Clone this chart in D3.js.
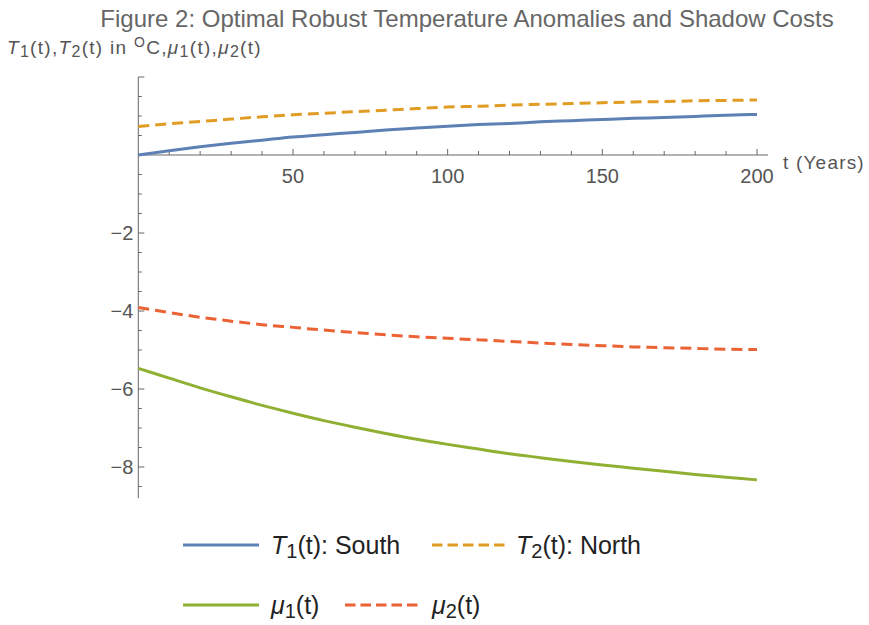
<!DOCTYPE html>
<html>
<head>
<meta charset="utf-8">
<script src="https://cdn.jsdelivr.net/npm/d3@7"></script>
<style>
  html, body { margin: 0; padding: 0; background: #fff; }
  svg { display: block; font-family: "Liberation Sans", Arial, Helvetica, sans-serif; }
</style>
</head>
<body>
<svg id="chart" width="869" height="625"></svg>
<script>
// ---- data ----
const years = [0, 10, 20, 30, 40, 50, 60, 70, 80, 90, 100, 110, 120, 130, 140, 150, 160, 170, 180, 190, 200];
const T1 = [0, 0.11, 0.21, 0.30, 0.38, 0.46, 0.52, 0.58, 0.64, 0.69, 0.74, 0.78, 0.81, 0.85, 0.88, 0.91, 0.94, 0.96, 0.99, 1.02, 1.04];
const T2 = [0.73, 0.80, 0.86, 0.92, 0.98, 1.03, 1.07, 1.11, 1.15, 1.19, 1.23, 1.25, 1.28, 1.30, 1.32, 1.34, 1.36, 1.37, 1.39, 1.40, 1.41];
const mu1 = [-5.47, -5.72, -5.97, -6.20, -6.42, -6.62, -6.81, -6.98, -7.14, -7.29, -7.42, -7.54, -7.66, -7.76, -7.86, -7.95, -8.03, -8.11, -8.19, -8.26, -8.33];
const mu2 = [-3.91, -4.04, -4.16, -4.26, -4.35, -4.42, -4.49, -4.55, -4.61, -4.66, -4.70, -4.74, -4.78, -4.82, -4.86, -4.89, -4.92, -4.94, -4.96, -4.98, -4.99];
const xMajorTicks = [50, 100, 150, 200];
const yMajorTicks = [-8, -6, -4, -2];
const seriesNames = ["T1", "T2", "mu1", "mu2"];

const colors = { T1: "#5E81B5", T2: "#E19C24", mu1: "#8FB032", mu2: "#EB6235" };
const dashes = { T1: null, T2: "11,6", mu1: null, mu2: "11,6" };
const values = { T1, T2, mu1, mu2 };

const svg = d3.select("#chart");

const x = d3.scaleLinear().domain([0, 200]).range([138.3, 757]);
const y = d3.scaleLinear().domain([0, -8]).range([155, 467]);

const axisColor = "#666";
const labelColor = "#555";

const g = svg.append("g");
// x axis line
g.append("line").attr("x1", x(0)).attr("x2", 768).attr("y1", y(0)).attr("y2", y(0))
  .attr("stroke", axisColor).attr("stroke-width", 1);
// y axis line
g.append("line").attr("x1", x(0)).attr("x2", x(0)).attr("y1", y(2)).attr("y2", y(-8.8))
  .attr("stroke", axisColor).attr("stroke-width", 1);

// x ticks (inward = upward)
d3.range(10, 201, 10).forEach(t => {
  const major = xMajorTicks.includes(t);
  g.append("line").attr("x1", x(t)).attr("x2", x(t))
    .attr("y1", y(0)).attr("y2", y(0) - (major ? 6 : 4))
    .attr("stroke", axisColor).attr("stroke-width", 1);
});
xMajorTicks.forEach(t => {
  g.append("text").attr("x", x(t)).attr("y", y(0) + 28)
    .attr("text-anchor", "middle").attr("font-size", 20).attr("fill", labelColor)
    .text(t);
});

// y ticks (inward = rightward)
d3.range(-8.5, 2.01, 0.5).forEach(v => {
  if (Math.abs(v) < 1e-9) return;
  const major = Math.abs(v - Math.round(v / 2) * 2) < 1e-9;
  g.append("line").attr("x1", x(0)).attr("x2", x(0) + (major ? 6 : 3.5))
    .attr("y1", y(v)).attr("y2", y(v))
    .attr("stroke", axisColor).attr("stroke-width", 1);
});
yMajorTicks.forEach(v => {
  g.append("text").attr("x", x(0) - 5).attr("y", y(v) + 7)
    .attr("text-anchor", "end").attr("font-size", 20).attr("fill", labelColor)
    .text("\u2212" + Math.abs(v));
});

// x axis label
g.append("text").attr("x", 783).attr("y", 169).attr("font-size", 19)
  .attr("letter-spacing", 1.2).attr("fill", labelColor)
  .text("t (Years)");

// title
svg.append("text").attr("x", 467).attr("y", 27).attr("text-anchor", "middle")
  .attr("font-size", 24).attr("fill", "#666")
  .text("Figure 2: Optimal Robust Temperature Anomalies and Shadow Costs");

// y label with subscripts
const yl = svg.append("text").attr("x", 7).attr("y", 54).attr("font-size", 19)
  .attr("letter-spacing", 1.3).attr("fill", "#555");
function addPart(sel, txt, opts = {}) {
  const ts = sel.append("tspan").text(txt);
  if (opts.italic) ts.attr("font-style", "italic");
  if (opts.size) ts.attr("font-size", opts.size);
  if (opts.dy !== undefined) ts.attr("dy", opts.dy);
  return ts;
}
addPart(yl, "T", { italic: true });
addPart(yl, "1", { size: 16, dy: 3 });
addPart(yl, "(t),", { dy: -3 });
addPart(yl, "T", { italic: true });
addPart(yl, "2", { size: 16, dy: 3 });
addPart(yl, "(t) in ", { dy: -3 });
addPart(yl, "O", { size: 14, dy: -7 });
addPart(yl, "C,", { dy: 7 });
addPart(yl, "\u03BC", { italic: true });
addPart(yl, "1", { size: 16, dy: 3 });
addPart(yl, "(t),", { dy: -3 });
addPart(yl, "\u03BC", { italic: true });
addPart(yl, "2", { size: 16, dy: 3 });
addPart(yl, "(t)", { dy: -3 });

// series lines
const line = d3.line().x((d, i) => x(years[i])).y(d => y(d)).curve(d3.curveMonotoneX);
seriesNames.forEach(name => {
  const p = svg.append("path").datum(values[name])
    .attr("d", line).attr("fill", "none")
    .attr("stroke", colors[name]).attr("stroke-width", 3);
  if (dashes[name]) p.attr("stroke-dasharray", dashes[name]);
});

// legend
const legendItems = [
  { key: "T1", lx: 183, tx: 271, ty: 545, sym: "T", sub: "1", rest: "(t): South" },
  { key: "T2", lx: 432, tx: 516, ty: 545, sym: "T", sub: "2", rest: "(t): North" },
  { key: "mu1", lx: 183, tx: 271, ty: 605, sym: "\u03BC", sub: "1", rest: "(t)" },
  { key: "mu2", lx: 345, tx: 432, ty: 605, sym: "\u03BC", sub: "2", rest: "(t)" }
];
legendItems.forEach(it => {
  const l = svg.append("line").attr("x1", it.lx).attr("x2", it.lx + 76)
    .attr("y1", it.ty).attr("y2", it.ty)
    .attr("stroke", colors[it.key]).attr("stroke-width", 3);
  if (dashes[it.key]) l.attr("stroke-dasharray", "10.5,5");
  const t = svg.append("text").attr("x", it.tx).attr("y", it.ty + 9)
    .attr("font-size", 25).attr("fill", "#222");
  t.append("tspan").attr("font-style", "italic").text(it.sym);
  t.append("tspan").attr("font-size", 20).attr("dy", 4).text(it.sub);
  t.append("tspan").attr("dy", -4).text(it.rest);
});
</script>
</body>
</html>
